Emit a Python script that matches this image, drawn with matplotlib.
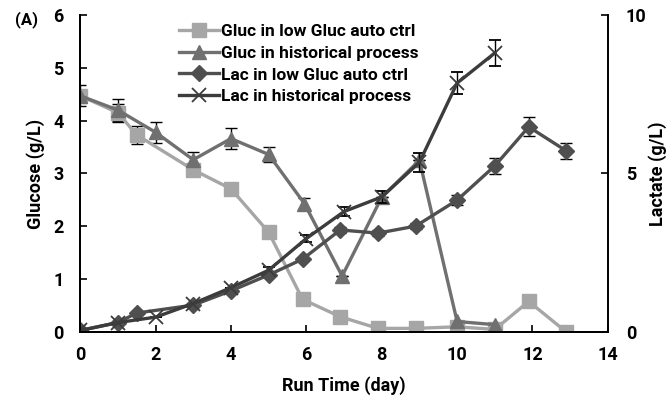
import matplotlib
matplotlib.use("Agg")
import matplotlib.pyplot as plt
import numpy as np

plt.rcParams['font.family'] = ['Roboto', 'DejaVu Sans']
plt.rcParams['font.weight'] = 'bold'

# sampling days
t_low = [0, 1, 1.5, 3, 4, 5, 5.9, 6.9, 7.9, 8.9, 10, 11, 11.9, 12.9]
t_hist_gluc = [0, 1, 2, 3, 4, 5, 5.95, 6.95, 8, 9, 10, 11]
t_hist_lac = [0, 1, 2, 3, 4, 5, 6, 7, 8, 9, 10, 11]

# glucose (g/L)
gluc_low = [4.47, 4.15, 3.73, 3.07, 2.71, 1.89, 0.62, 0.29, 0.07, 0.07, 0.1, 0.05, 0.58, 0.0]
gluc_low_err = [0.1, 0.17, 0.17, 0.1, 0.05, 0, 0, 0, 0, 0, 0, 0, 0, 0]
gluc_hist = [4.47, 4.2, 3.78, 3.26, 3.66, 3.36, 2.43, 1.06, 2.55, 3.25, 0.2, 0.14]
gluc_hist_err = [0.2, 0.2, 0.2, 0.15, 0.2, 0.15, 0.1, 0, 0, 0, 0, 0]

# lactate (g/L)
lac_low = [0.05, 0.3, 0.6, 0.85, 1.3, 1.8, 2.3, 3.22, 3.12, 3.34, 4.16, 5.24, 6.47, 5.71]
lac_low_err = [0, 0, 0, 0, 0, 0, 0, 0.1, 0.1, 0.1, 0.15, 0.25, 0.3, 0.25]
lac_hist = [0.05, 0.3, 0.47, 0.9, 1.4, 1.95, 2.95, 3.8, 4.26, 5.35, 7.85, 8.8]
lac_hist_err = [0, 0, 0, 0, 0, 0.1, 0.1, 0.15, 0.2, 0.3, 0.35, 0.42]

c_gl = '#a6a6a6'
c_gh = '#707070'
c_ll = '#4f4f4f'
c_lh = '#3c3c3c'

fig = plt.figure(figsize=(6.68, 4.03), dpi=100)
ax = fig.add_axes([0.12, 0.176, 0.79, 0.787])
ax2 = ax.twinx()

lw = 2.4
eb = dict(ecolor='black', elinewidth=1.0, capsize=4, capthick=1.0)
h1 = ax.errorbar(t_low, gluc_low, yerr=gluc_low_err, color=c_gl, lw=lw,
                 marker='s', ms=10, **eb)
h2 = ax.errorbar(t_hist_gluc, gluc_hist, yerr=gluc_hist_err, color=c_gh, lw=lw,
                 marker='^', ms=10, **eb)
h3 = ax2.errorbar(t_low, lac_low, yerr=lac_low_err, color=c_ll, lw=lw,
                  marker='D', ms=8, **eb)
h4 = ax2.errorbar(t_hist_lac, lac_hist, yerr=lac_hist_err, color=c_lh, lw=lw,
                  marker='x', ms=10, mew=1.3, **eb)

ax.set_xlim(0, 14)
ax.set_ylim(0, 6)
ax2.set_ylim(0, 10)
ax.set_xticks(np.arange(0, 15, 2))
ax.set_yticks(np.arange(0, 7, 1))
ax2.set_yticks([0, 5, 10])

for a in (ax, ax2):
    a.spines['top'].set_visible(False)
    a.tick_params(direction='in', length=5, width=1.2, labelsize=13, pad=12)
    for s in a.spines.values():
        s.set_linewidth(1.4)
ax.tick_params(axis='x', pad=10)
ax2.tick_params(pad=13)
ax.spines['right'].set_visible(False)

ax.set_xlabel('Run Time (day)', fontsize=13, fontweight='bold', labelpad=9)
ax.set_ylabel('Glucose (g/L)', fontsize=13, fontweight='bold', labelpad=6)
ax2.set_ylabel('Lactate (g/L)', fontsize=13, fontweight='bold', labelpad=1)

labels = ['Gluc in low Gluc auto ctrl', 'Gluc in historical process',
          'Lac in low Gluc auto ctrl', 'Lac in historical process']
leg = ax.legend(handles=[h1[0], h2[0], h3[0], h4[0]], labels=labels,
                loc='upper left', bbox_to_anchor=(0.165, 1.01),
                frameon=False, fontsize=12.5, handlelength=2.3, handletextpad=0.1,
                labelspacing=0.38, borderpad=0.2)
for txt in leg.get_texts():
    txt.set_fontweight('bold')

fig.text(0.022, 0.94, '(A)', fontsize=12, fontweight='bold')

fig.savefig('out.png', dpi=100)
